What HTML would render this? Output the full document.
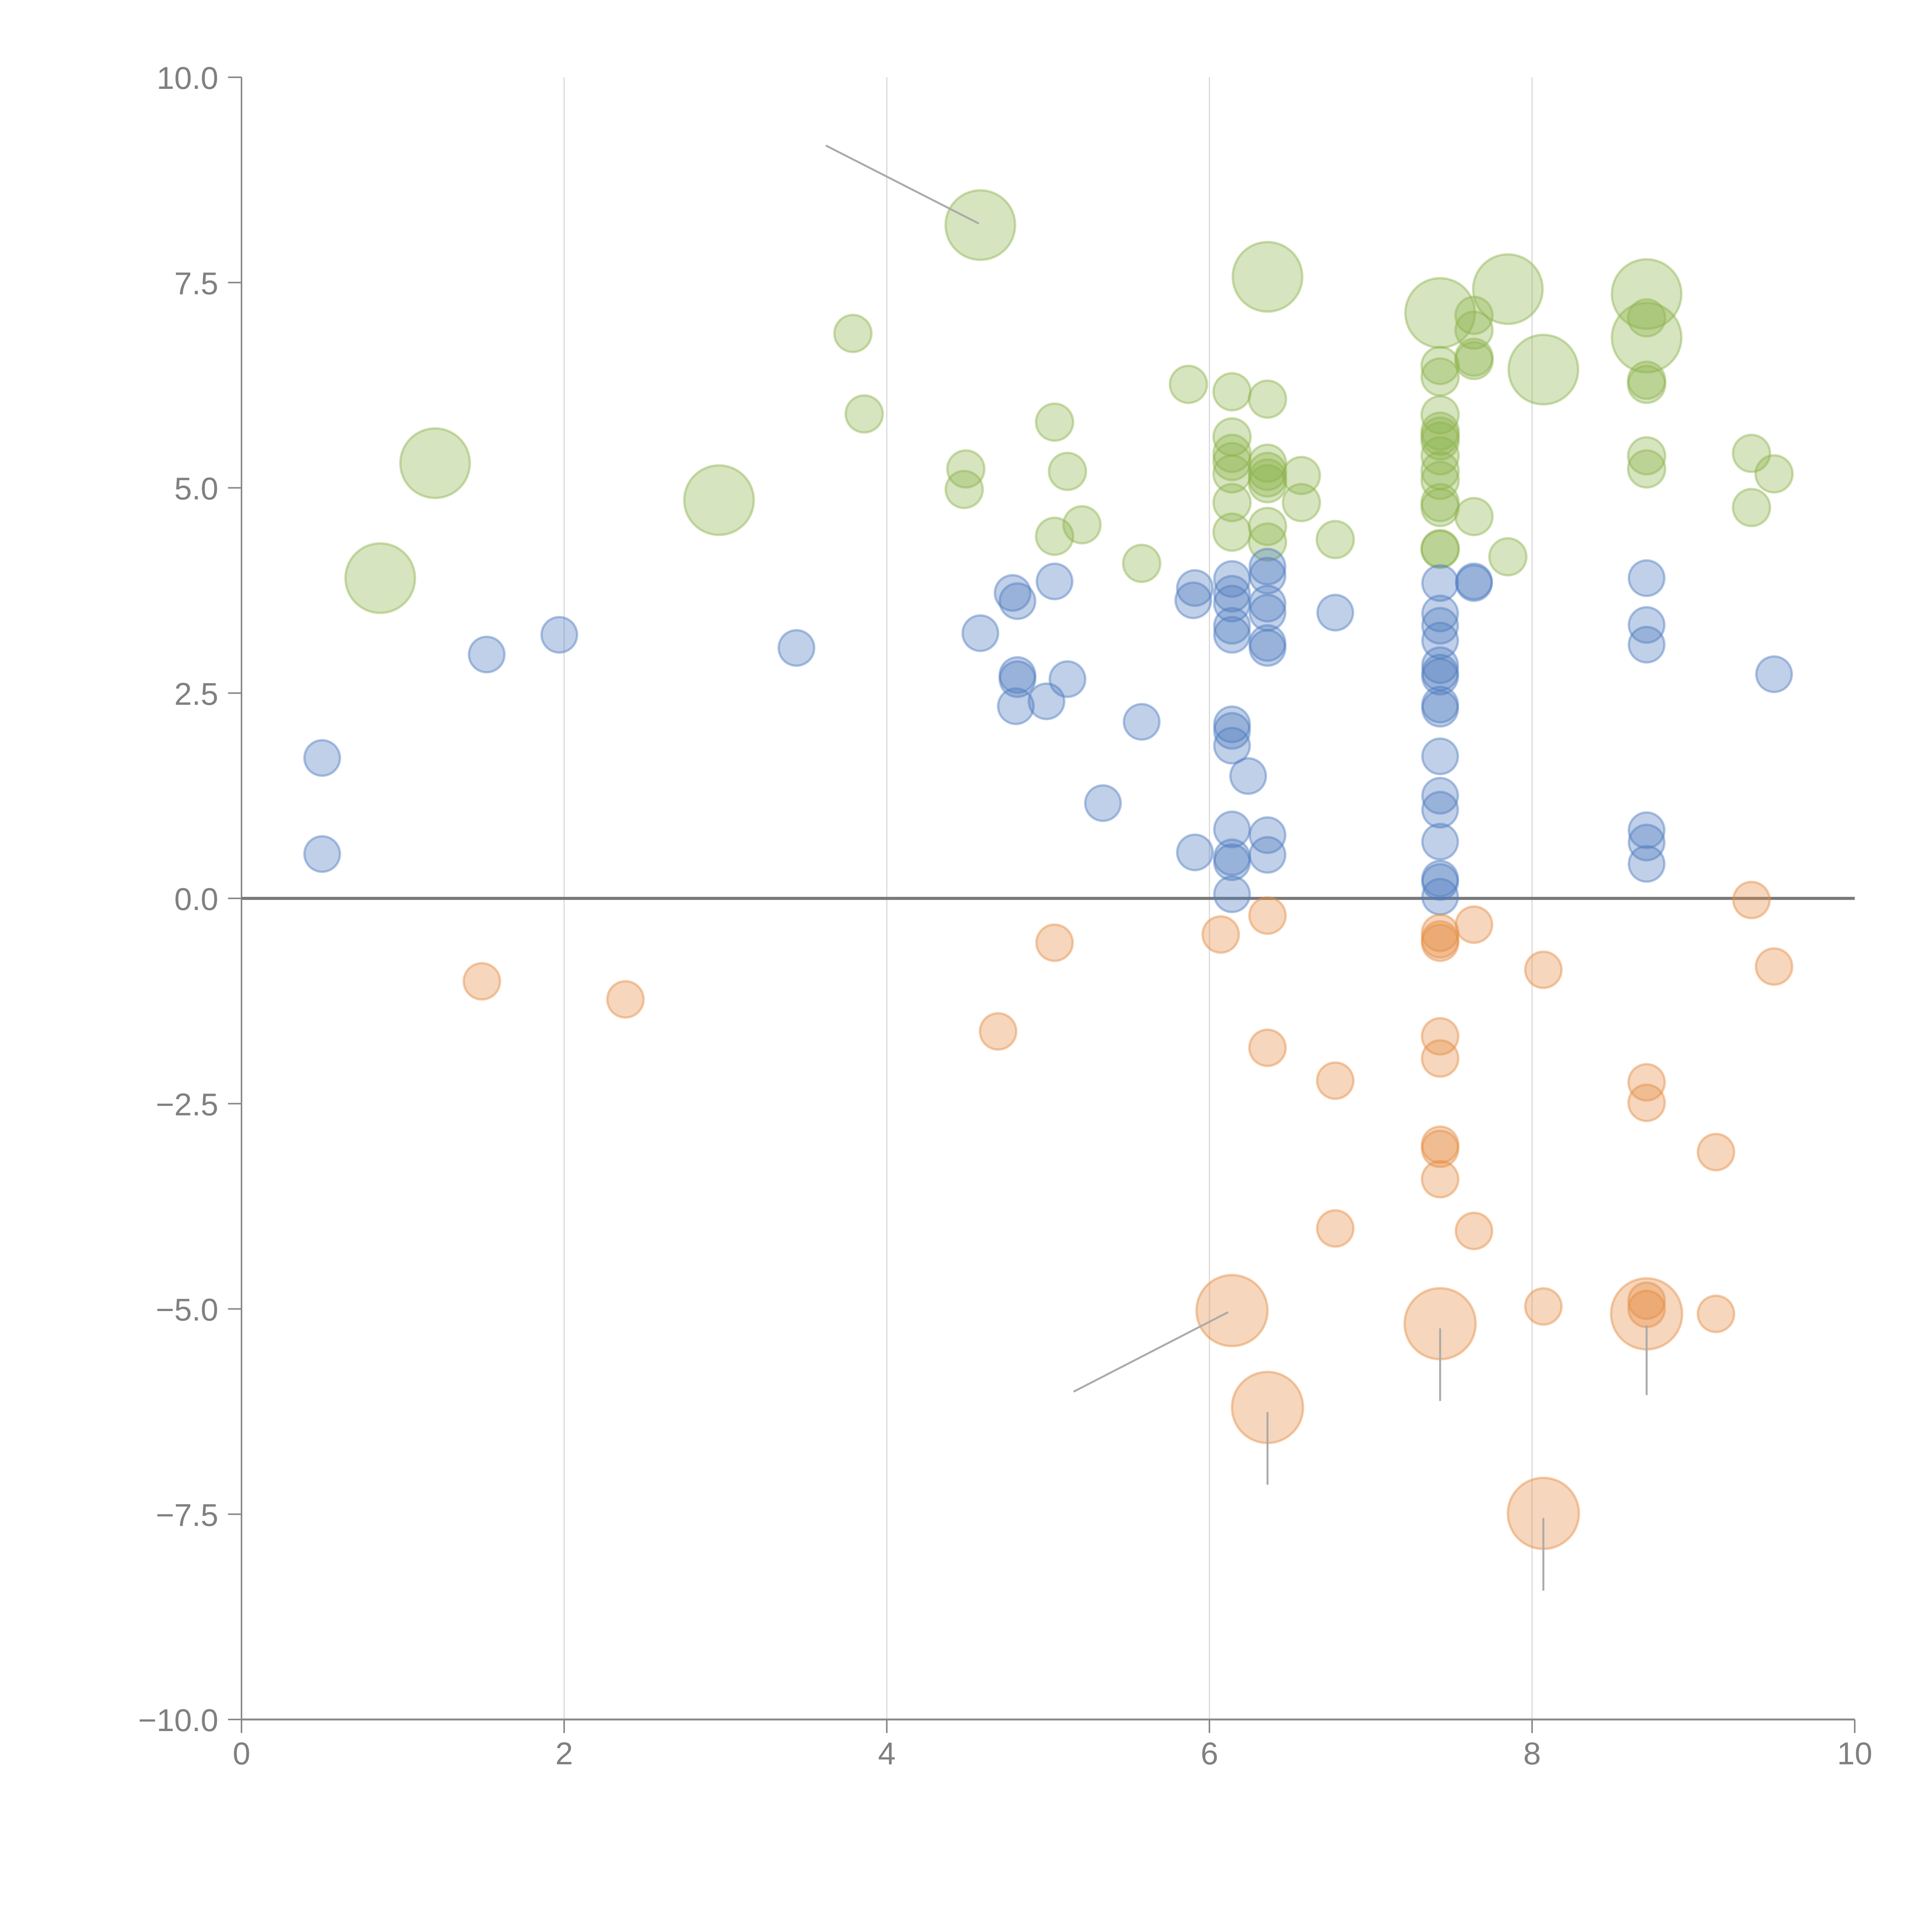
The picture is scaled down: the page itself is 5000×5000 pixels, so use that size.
<!DOCTYPE html>
<html><head><meta charset="utf-8"><style>
html,body{margin:0;padding:0;background:#fff;}
svg{display:block;}
text{font-family:"Liberation Sans",sans-serif;fill:#808080;}
</style></head>
<body>
<svg id="chart" width="5000" height="5000" viewBox="0 0 5000 5000" xmlns="http://www.w3.org/2000/svg">
<g id="grid"></g>
<g id="axes"></g>
<g id="marks"></g>
<g id="leaders"></g>
</svg>
<script>
const xTicks=[0,2,4,6,8,10];
const xTickLabels=["0","2","4","6","8","10"];
const yTicks=[10,7.5,5,2.5,0,-2.5,-5,-7.5,-10];
const yTickLabels=["10.0","7.5","5.0","2.5","0.0","\u22122.5","\u22125.0","\u22127.5","\u221210.0"];

const blueX=[0.5,0.5,1.52,1.97,3.44,4.58,4.78,4.81,4.81,4.81,4.8,4.99,5.12,5.04,5.34,5.58,5.91,5.9,5.91,6.14,6.14,6.14,6.14,6.14,6.14,6.14,6.14,6.24,6.14,6.14,6.14,6.14,6.36,6.36,6.36,6.36,6.36,6.36,6.36,6.36,6.78,7.43,7.43,7.43,7.43,7.43,7.43,7.43,7.43,7.43,7.43,7.43,7.43,7.43,7.43,7.43,7.43,7.64,7.64,8.71,8.71,8.71,8.71,8.71,8.71,9.5];
const blueY=[1.71,0.54,2.97,3.21,3.05,3.23,3.72,3.62,2.72,2.67,2.34,2.4,2.67,3.86,1.16,2.15,3.78,3.63,0.56,3.89,3.71,3.59,3.32,3.21,2.12,2.04,1.86,1.49,0.84,0.5,0.44,0.05,4.04,3.93,3.59,3.48,3.11,3.05,0.77,0.53,3.48,3.84,3.47,3.32,3.14,2.84,2.75,2.7,2.36,2.31,1.73,1.25,1.08,0.69,0.24,0.2,0.02,3.86,3.84,3.9,3.33,3.09,0.83,0.68,0.42,2.73];

const orangeX=[1.49,2.38,4.69,5.04,6.07,6.36,6.36,6.78,6.78,7.43,7.43,7.43,7.43,7.43,7.43,7.43,7.43,7.64,7.64,8.07,8.07,8.71,8.71,8.71,8.71,9.14,9.14,9.36,9.5];
const orangeY=[-1.01,-1.23,-1.62,-0.54,-0.44,-0.21,-1.82,-2.22,-4.02,-0.42,-0.5,-0.54,-1.68,-1.95,-3.0,-3.05,-3.42,-0.32,-4.05,-0.87,-4.97,-2.24,-2.49,-4.9,-5.0,-3.09,-5.06,-0.02,-0.83];
const orangeBigX=[6.14,6.36,7.43,8.07,8.71];
const orangeBigY=[-5.02,-6.2,-5.18,-7.49,-5.06];

const greenX=[3.79,3.86,4.49,4.48,5.04,5.12,5.04,5.21,5.58,5.87,6.14,6.14,6.14,6.14,6.14,6.14,6.14,6.36,6.36,6.36,6.36,6.36,6.36,6.36,6.57,6.57,6.78,7.43,7.43,7.43,7.43,7.43,7.43,7.43,7.43,7.43,7.43,7.43,7.43,7.43,7.64,7.64,7.64,7.64,7.64,7.85,8.71,8.71,8.71,8.71,8.71,9.36,9.36,9.5];
const greenY=[6.88,5.9,5.23,4.98,5.8,5.2,4.41,4.55,4.08,6.26,6.17,5.62,5.42,5.32,5.17,4.82,4.46,6.08,5.3,5.2,5.12,5.05,4.53,4.34,5.15,4.82,4.37,6.49,6.35,5.89,5.69,5.63,5.57,5.39,5.21,5.09,4.82,4.76,4.26,4.25,7.1,6.92,6.59,6.55,4.65,4.16,7.07,6.31,6.26,5.39,5.23,5.42,4.76,5.17];
const greenBigX=[0.86,1.2,2.96,4.58,6.36,7.43,7.85,8.07,8.71,8.71];
const greenBigY=[3.9,5.3,4.85,8.2,7.57,7.13,7.42,6.44,7.36,6.83];

const X0=625,X1=4800,Y0=4450,Y1=200;
const sx=v=>X0+(v-0)/(10-0)*(X1-X0);
const sy=v=>Y0-(v+10)/20*(Y0-Y1);
const NS="http://www.w3.org/2000/svg";
function mk(tag,parent,attrs){const e=document.createElementNS(NS,tag);for(const k in attrs)e.setAttribute(k,attrs[k]);parent.appendChild(e);return e;}
const grid=document.getElementById('grid'),axes=document.getElementById('axes'),marks=document.getElementById('marks'),leaders=document.getElementById('leaders');

xTicks.forEach((t,i)=>{
  if(t>0&&t<10){const g=mk('line',grid,{x1:sx(t),x2:sx(t),y1:Y1,y2:Y0,stroke:'#d8d8d8','stroke-width':3});
    
    }
  const tk=mk('line',axes,{x1:sx(t),x2:sx(t),y1:Y0,y2:Y0+35,stroke:'#888','stroke-width':4});
  
  
  const tx=mk('text',axes,{x:sx(t),y:Y0+116,'text-anchor':'middle','font-size':82});
  tx.textContent=xTickLabels[i];
  
  
});
yTicks.forEach((t,i)=>{
  const tk=mk('line',axes,{x1:X0-35,x2:X0,y1:sy(t),y2:sy(t),stroke:'#888','stroke-width':4});
  
  
  const tx=mk('text',axes,{x:X0-60,y:sy(t)+30,'text-anchor':'end','font-size':82});
  tx.textContent=yTickLabels[i];
  
  
});
const ya=mk('line',axes,{x1:X0,x2:X0,y1:Y1,y2:Y0,stroke:'#888','stroke-width':4});


const xa=mk('line',axes,{x1:X0,x2:X1,y1:Y0,y2:Y0,stroke:'#888','stroke-width':5});


const zl=mk('line',axes,{x1:X0,x2:X1,y1:sy(0),y2:sy(0),stroke:'#7a7a7a','stroke-width':8});



function bubbles(xs,ys,r,color,name){
  xs.forEach((x,i)=>{
    const c=mk('circle',marks,{cx:sx(x),cy:sy(ys[i]),r:r,fill:color,'fill-opacity':0.36,stroke:color,'stroke-opacity':0.45,'stroke-width':6});
    
    
  });
}
bubbles(greenBigX,greenBigY,90,'#8db34d','green-bubble-large');
bubbles(greenX,greenY,48,'#8db34d','green-bubble');
bubbles(blueX,blueY,46,'#4f7dc0','blue-bubble');
bubbles(orangeX,orangeY,47,'#e58d45','orange-bubble');
bubbles(orangeBigX,orangeBigY,92,'#e58d45','orange-bubble-large');

function leader(x,y,dx1,dy1,dx2,dy2){
  const l=mk('line',leaders,{x1:sx(x)+dx1,y1:sy(y)+dy1,x2:sx(x)+dx2,y2:sy(y)+dy2,stroke:'#aaa','stroke-width':5});
  
  
}
leader(greenBigX[3],greenBigY[3],-4,-4,-400,-206);
leader(orangeBigX[0],orangeBigY[0],-10,4,-410,210);
leader(orangeBigX[1],orangeBigY[1],0,12,0,200);
leader(orangeBigX[2],orangeBigY[2],0,12,0,200);
leader(orangeBigX[3],orangeBigY[3],0,12,0,200);
leader(orangeBigX[4],orangeBigY[4],0,30,0,210);
</script>
</body></html>
